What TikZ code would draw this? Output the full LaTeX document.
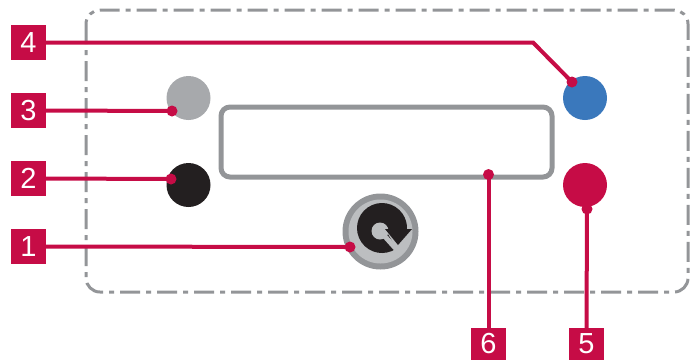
\documentclass[tikz,border=0pt]{standalone}
\usepackage{fontspec}
\setmainfont{Liberation Sans}
\definecolor{crim}{HTML}{C60C46}
\definecolor{midgray}{HTML}{939598}
\definecolor{lightgray2}{HTML}{BCBEC0}
\definecolor{disc}{HTML}{A7A9AC}
\definecolor{blk}{HTML}{231F20}
\definecolor{blu}{HTML}{3A78BC}
\tikzset{
 tag/.style={fill=crim,text=white,minimum width=35pt,minimum height=35pt,inner sep=0pt,font=\fontsize{29}{29}\selectfont},
 tagcut/.style={tag,minimum height=32pt},
 lead/.style={draw=crim,line width=4pt},
 pin/.style={circle,fill=crim,minimum size=11pt,inner sep=0pt},
 lamp/.style={circle,minimum size=44pt,inner sep=0pt},
}
\begin{document}
\begin{tikzpicture}[x=1pt,y=-1pt]
\useasboundingbox (0,0) rectangle (692,360);
\draw[midgray,line width=3pt,rounded corners=14pt,dash pattern=on 20pt off 6pt on 5pt off 6pt] (86,10) rectangle (688,292);
\node[lamp,fill=disc] (l3) at (188.5,98) {};
\node[lamp,fill=blk] (l2) at (188.5,185) {};
\node[lamp,fill=blu] (l4) at (585,98) {};
\node[lamp,fill=crim] (l5) at (585,185) {};
\draw[midgray,line width=5pt,rounded corners=9pt] (221,107) rectangle (552,177);
% button
\node[circle,minimum size=76pt,inner sep=0pt,fill=midgray] (b) at (380.5,231.5) {};
\node[circle,minimum size=64pt,inner sep=0pt,fill=lightgray2] at (b) {};
\fill[blk] (382,228) ++(55:25) arc (55:362:25) -- (385,229) -- cycle;
\fill[lightgray2] (380,231) circle (8.5);
\draw[lightgray2,line width=5pt] (380,231) -- (398,251);
\fill[blk] (385,229) -- (412,229) -- (398,245) -- cycle;
\node[pin] (p3) at (172,111) {};
\node[pin] (p2) at (171,179) {};
\node[pin] (p1) at (350,247) {};
\node[pin] (p4) at (572,82) {};
\node[pin] (p5) at (587,209) {};
\node[pin] (p6) at (488.5,174.5) {};
\node[tag] (t4) at (28.5,42.5) {4};
\node[tag] (t3) at (28.5,110.5) {3};
\node[tag] (t2) at (28.5,178.5) {2};
\node[tag] (t1) at (28.5,246.5) {1};
\node[tagcut] (t6) at (488.5,344) {6};
\node[tagcut] (t5) at (586.5,344) {5};
\coordinate (k4) at (533,42.5);
\draw[lead] (t4.east) -- (k4) -- (p4.center);
\draw[lead] (t3.east) -- (p3.center);
\draw[lead] (t2.east) -- (p2.center);
\draw[lead] (t1.east) -- (p1.center);
\draw[lead] (t6.north) -- (p6.center);
\draw[lead] (t5.north) -- (p5.center);
\end{tikzpicture}
\end{document}
